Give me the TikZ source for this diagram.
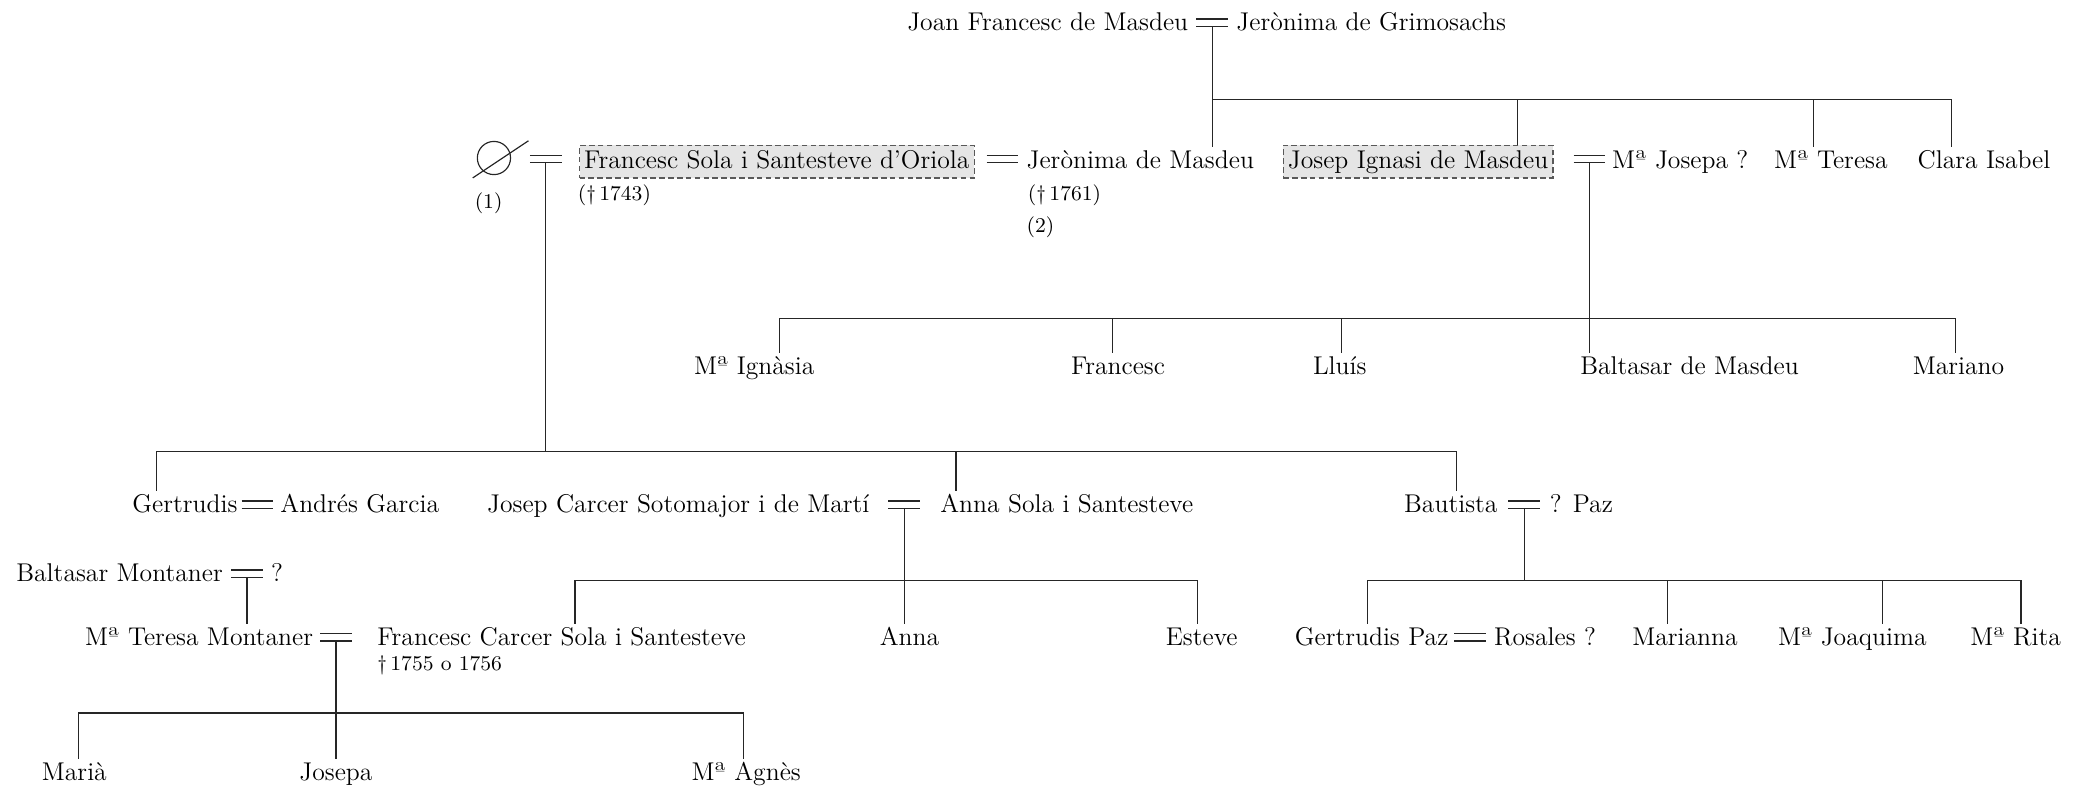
\documentclass[tikz,border=0pt]{standalone}
\usepackage{fontspec}
\usepackage{tikz}
\usetikzlibrary{calc}

\tikzset{
  person/.style={inner sep=1pt, text height=8pt, text depth=2pt, font=\fontsize{11}{13}\selectfont},
  marked/.style={person, draw=black!65, fill=black!10, dash pattern=on 2.4pt off 1.4pt, inner sep=2pt},
  note/.style={inner sep=1pt, font=\fontsize{9}{11}\selectfont},
  wed/.style={minimum width=0.46cm, minimum height=0.09cm, inner sep=0pt,
    append after command={(\tikzlastnode.north west) edge (\tikzlastnode.north east)
                          (\tikzlastnode.south west) edge (\tikzlastnode.south east)}}
}

\begin{document}
\begin{tikzpicture}[x=0.02cm, y=-0.02cm, line width=0.5pt, draw=black!85]
    \useasboundingbox (0,0) rectangle (1568,595);

    % Joan Francesc and Jeronima
    \node[person, anchor=base east] (jfm) at (897,23) {Joan Francesc de Masdeu};
    \node[wed] (w0) at (913,17) {};
    \node[person, anchor=base west] (jgr) at (929,23) {Jerònima de Grimosachs};

    % Their children
    \node[circle, draw, minimum size=0.5cm, inner sep=0pt] (nul) at (372,119) {};
    \draw ([shift={(-16,15)}]nul.center) -- ([shift={(26,-13)}]nul.center);
    \node[note, anchor=base] (n1) at (368,157) {(1)};
    \node[wed] (w1) at (411,120) {};
    \node[marked, anchor=base west] (fso) at (436,127) {Francesc Sola i Santesteve d’Oriola};
    \node[note, anchor=base west] (fsod) at (433,151) {(\textdagger\,1743)};
    \node[wed] (w2) at (755,120) {};
    \node[person, anchor=base west] (jm) at (771,127) {Jerònima de Masdeu};
    \node[note, anchor=base west] (jmd) at (772,151) {(\textdagger\,1761)};
    \node[note, anchor=base west] (n2) at (771,175) {(2)};
    \node[marked, anchor=base west] (jim) at (966,127) {Josep Ignasi de Masdeu};
    \node[wed] (w3) at (1197,120) {};
    \node[person, anchor=base west] (mjo) at (1212,127) {Mª Josepa ?};
    \node[person, anchor=base west] (mte) at (1334,127) {Mª Teresa};
    \node[person, anchor=base west] (cis) at (1442,127) {Clara Isabel};

    % Children of Josep Ignasi
    \node[person, anchor=base] (mig) at (568,282) {Mª Ignàsia};
    \node[person, anchor=base] (fra) at (842,282) {Francesc};
    \node[person, anchor=base] (llu) at (1009,282) {Lluís};
    \node[person, anchor=base west] (bdm) at (1188,282) {Baltasar de Masdeu};
    \node[person, anchor=base] (mar) at (1475,282) {Mariano};

    % Children of Francesc Sola
    \node[person, anchor=base east] (ger) at (181,386) {Gertrudis};
    \node[wed] (w4) at (194,380) {};
    \node[person, anchor=base west] (agc) at (209,386) {Andrés Garcia};
    \node[person, anchor=base east] (jcs) at (657,386) {Josep Carcer Sotomajor i de Martí};
    \node[wed] (w5) at (681,380) {};
    \node[person, anchor=base west] (asa) at (706,386) {Anna Sola i Santesteve};
    \node[person, anchor=base east] (bau) at (1130,386) {Bautista};
    \node[wed] (w6) at (1148,380) {};
    \node[person, anchor=base west] (paz) at (1165,386) {? Paz};

    % Grandchildren
    \node[person, anchor=base east] (bmo) at (170,438) {Baltasar Montaner};
    \node[wed] (w7) at (186,432) {};
    \node[person, anchor=base west] (bmw) at (202,438) {?};
    \node[person, anchor=base east] (tmo) at (238,486) {Mª Teresa Montaner};
    \node[wed] (w8) at (253,480) {};
    \node[person, anchor=base west] (fcs) at (282,486) {Francesc Carcer Sola i Santesteve};
    \node[note, anchor=base west] (fcsd) at (282,505) {\textdagger\,1755 o 1756};
    \node[person, anchor=base] (ann) at (685,486) {Anna};
    \node[person, anchor=base] (est) at (905,486) {Esteve};
    \node[person, anchor=base east] (gpz) at (1093,486) {Gertrudis Paz};
    \node[wed] (w9) at (1107,480) {};
    \node[person, anchor=base west] (ros) at (1123,486) {Rosales ?};
    \node[person, anchor=base] (mna) at (1269,486) {Marianna};
    \node[person, anchor=base] (mjq) at (1395,486) {Mª Joaquima};
    \node[person, anchor=base] (mri) at (1518,486) {Mª Rita};

    % Last row
    \node[person, anchor=base] (mia) at (56,588) {Marià};
    \node[person, anchor=base] (jos) at (253,588) {Josepa};
    \node[person, anchor=base] (agn) at (562,588) {Mª Agnès};

    % Drop points on the bars
    \coordinate (d-jim) at (1143,75);
    \coordinate (d-mte) at (1366,75);
    \coordinate (d-cis) at (1470,75);
    \coordinate (d-mig) at (587,240);
    \coordinate (d-fra) at (838,240);
    \coordinate (d-llu) at (1010,240);
    \coordinate (d-mar) at (1473,240);
    \coordinate (d-ger) at (118,340);
    \coordinate (d-asa) at (720,340);
    \coordinate (d-bau) at (1097,340);
    \coordinate (d-fcs) at (433,437);
    \coordinate (d-est) at (902,437);
    \coordinate (d-gpz) at (1030,437);
    \coordinate (d-mna) at (1256,437);
    \coordinate (d-mjq) at (1418,437);
    \coordinate (d-mri) at (1522,437);
    \coordinate (d-mia) at (59,537);
    \coordinate (d-agn) at (560,537);

    % Lines
    \draw (w0.south) -- (w0.south |- jm.north);
    \draw (w0.south |- d-cis) -- (d-cis);
    \foreach \n in {jim, mte, cis} \draw (d-\n) -- (d-\n |- \n.north);

    \draw (w3.south) -- (w3.south |- bdm.north);
    \draw (d-mig) -- (d-mar);
    \foreach \n in {mig, fra, llu, mar} \draw (d-\n) -- (d-\n |- \n.north);

    \draw (w1.south) -- (w1.south |- d-ger);
    \draw (d-ger) -- (d-bau);
    \foreach \n in {ger, asa, bau} \draw (d-\n) -- (d-\n |- \n.north);

    \draw (w5.south) -- (w5.south |- ann.north);
    \draw (d-fcs) -- (d-est);
    \foreach \n in {fcs, est} \draw (d-\n) -- (d-\n |- \n.north);

    \draw (w6.south) -- (w6.south |- d-gpz);
    \draw (d-gpz) -- (d-mri);
    \foreach \n in {gpz, mna, mjq, mri} \draw (d-\n) -- (d-\n |- \n.north);

    \draw (w7.south) -- (w7.south |- tmo.north);

    \draw (w8.south) -- (w8.south |- jos.north);
    \draw (d-mia) -- (d-agn);
    \foreach \n in {mia, agn} \draw (d-\n) -- (d-\n |- \n.north);
\end{tikzpicture}
\end{document}
